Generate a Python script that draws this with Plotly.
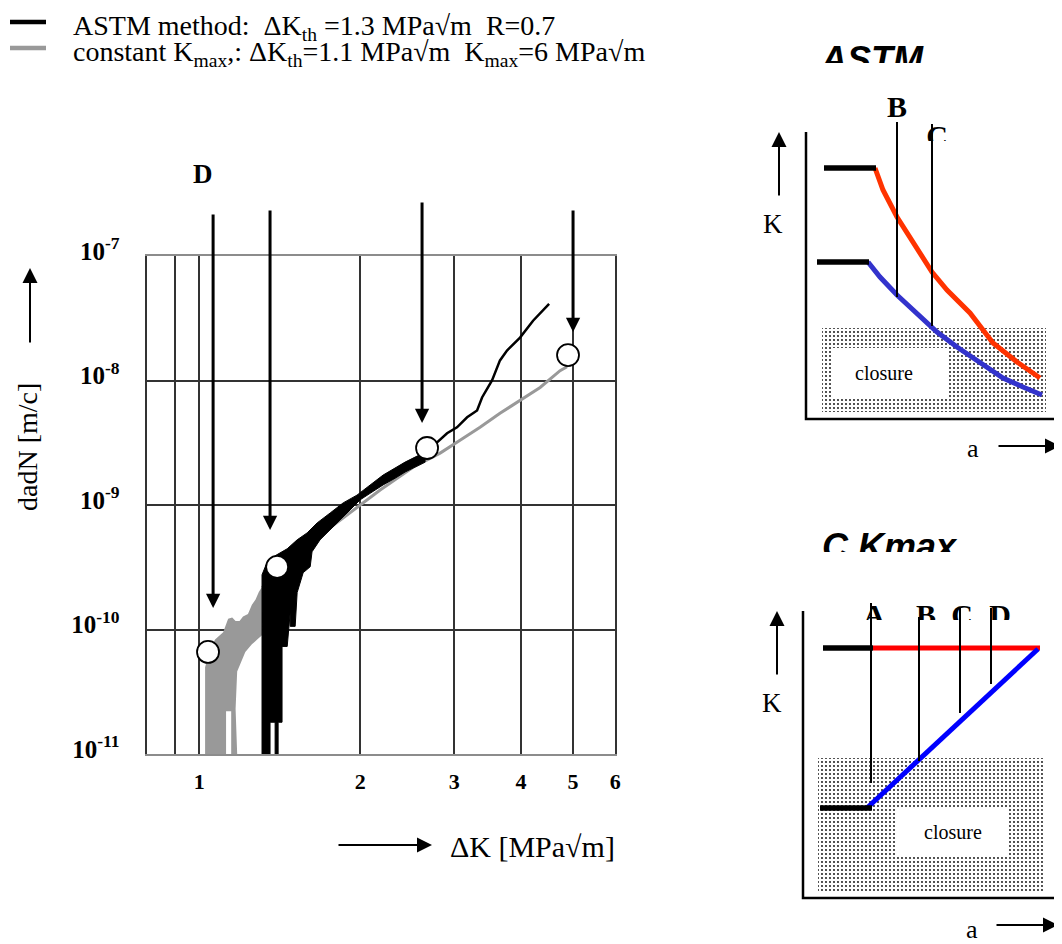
import math
import plotly.graph_objects as go

# The page adds an 8 px body margin, so the figure is drawn 8 px smaller
# and every reference-pixel position is converted with that offset.
OFF = 8
W, H = 1062 - OFF, 944 - OFF

# ---------------- main chart data (ΔK in MPa√m, da/dN in m/cycle) ----------------
gray_band_dk = [1.026, 1.026, 1.048, 1.071, 1.109, 1.133, 1.153, 1.170, 1.190, 1.208, 1.234,
                1.255, 1.275, 1.293, 1.311, 1.311, 1.284, 1.255, 1.220, 1.208, 1.178, 1.170,
                1.178, 1.148, 1.148, 1.123, 1.123, 1.026]
gray_band_rate = [1.0e-11, 4.97e-11, 6.9e-11, 8.3e-11, 9.5e-11, 1.22e-10, 1.25e-10, 1.17e-10,
                  1.17e-10, 1.27e-10, 1.33e-10, 1.58e-10, 1.74e-10, 2.0e-10, 2.2e-10, 9.0e-11,
                  8.3e-11, 7.6e-11, 6.6e-11, 6.0e-11, 4.6e-11, 2.3e-11, 1.0e-11, 1.0e-11,
                  2.2e-11, 2.2e-11, 1.0e-11, 1.0e-11]

black_band_dk = [1.311, 1.311, 1.334, 1.387, 1.461, 1.525, 1.592, 1.662, 1.758, 1.859, 1.973,
                 2.087, 2.208, 2.324, 2.427, 2.556, 2.645, 2.645, 2.556, 2.427, 2.324, 2.208,
                 2.105, 2.000, 1.915, 1.835, 1.758, 1.683, 1.626, 1.613, 1.565, 1.525, 1.512,
                 1.480, 1.480, 1.461, 1.429, 1.429, 1.405, 1.405, 1.387, 1.387, 1.357, 1.357,
                 1.311]
black_band_rate = [1.0e-11, 2.75e-10, 3.31e-10, 3.91e-10, 4.45e-10, 5.25e-10, 5.97e-10,
                   7.18e-10, 8.63e-10, 1.04e-9, 1.20e-9, 1.45e-9, 1.74e-9, 1.98e-9, 2.21e-9,
                   2.47e-9, 2.65e-9, 2.21e-9, 2.05e-9, 1.84e-9, 1.64e-9, 1.45e-9, 1.27e-9,
                   1.10e-9, 9.12e-10, 7.59e-10, 6.31e-10, 5.25e-10, 4.21e-10, 3.19e-10,
                   2.86e-10, 1.98e-10, 1.06e-10, 1.06e-10, 1.37e-10, 7.31e-11, 7.31e-11,
                   1.80e-11, 1.80e-11, 1.0e-11, 1.0e-11, 1.80e-11, 1.80e-11, 1.0e-11, 1.0e-11]

black_line_dk = [2.645, 2.786, 2.908, 3.035, 3.170, 3.309, 3.381, 3.529, 3.652, 3.764, 3.981,
                 4.211, 4.512]
black_line_rate = [2.45e-9, 3.19e-9, 3.77e-9, 4.21e-9, 5.06e-9, 5.75e-9, 7.31e-9, 1.0e-8,
                   1.45e-8, 1.74e-8, 2.21e-8, 3.02e-8, 4.13e-8]

gray_line_dk = [1.311, 1.480, 1.683, 1.915, 2.180, 2.512, 2.822, 3.075, 3.352, 3.652, 3.981,
                4.341, 4.730, 4.875]
gray_line_rate = [2.17e-10, 3.5e-10, 5.7e-10, 8.6e-10, 1.32e-9, 2.01e-9, 2.61e-9, 3.31e-9,
                  4.21e-9, 5.45e-9, 6.92e-9, 8.79e-9, 1.20e-8, 1.29e-8]

marker_dk = [1.039, 1.399, 2.668, 4.895]
marker_rate = [6.6e-11, 3.18e-10, 2.87e-9, 1.60e-8]

arrow_dk = [1.062, 1.357, 2.611, 5.002]
arrow_tip_rate = [1.49e-10, 6.3e-10, 4.56e-9, 2.45e-8]
arrow_top_rate = [2.21e-7, 2.39e-7, 2.77e-7, 2.39e-7]

x_tickvals = [0.9, 1, 2, 3, 4, 5, 6]
x_ticktext = ["", "1", "2", "3", "4", "5", "6"]
y_tickvals = [1e-11, 1e-10, 1e-9, 1e-8, 1e-7]
y_ticktext = ["10<sup>-11</sup>", "10<sup>-10</sup>", "10<sup>-9</sup>",
              "10<sup>-8</sup>", "10<sup>-7</sup>"]

legend_labels = ["ASTM method:\u00a0 ΔK<sub>th</sub> =1.3 MPa√m\u00a0 R=0.7",
                 "constant K<sub>max</sub>,: ΔK<sub>th</sub>=1.1 MPa√m\u00a0 K<sub>max</sub>=6 MPa√m"]
legend_colors = ["black", "#999999"]

# ---------------- schematic panel 1 (ASTM), arbitrary units a, K ----------------
p1_axis_a, p1_axis_K = [0, 0, 256], [287, 0, 0]
p1_high_a, p1_high_K = [18, 70], [251, 251]
p1_low_a, p1_low_K = [11, 63], [157, 157]
p1_red_a = [69, 77, 91, 107, 126, 141, 164, 187, 211, 234]
p1_red_K = [251, 229, 202, 176, 147, 129, 106, 76, 57, 41]
p1_blue_a = [62, 74, 91, 111, 131, 151, 174, 197, 217, 236]
p1_blue_K = [157, 142, 124, 106, 87, 72, 56, 41, 32, 24]
p1_closure_a, p1_closure_K = [16, 240, 240, 16, 16], [7, 7, 91, 91, 7]
p1_inner_a, p1_inner_K = [27, 141, 141, 27, 27], [22, 22, 71, 71, 22]
p1_cut_a = [91, 126]
p1_cut_top = [297, 295]
p1_cut_bottom = [122, 93]

# ---------------- schematic panel 2 (constant Kmax) ----------------
p2_axis_a, p2_axis_K = [0, 0, 259], [287, 0, 0]
p2_high_a, p2_high_K = [20, 70], [250, 250]
p2_red_a, p2_red_K = [70, 237], [250, 250]
p2_low_a, p2_low_K = [17, 69], [90, 90]
p2_blue_a, p2_blue_K = [64, 235], [90, 249]
p2_closure_a, p2_closure_K = [15, 241, 241, 15, 15], [5, 5, 140, 140, 5]
p2_inner_a, p2_inner_K = [94, 205, 205, 94, 94], [43, 43, 90, 90, 43]
p2_cut_a = [68, 116, 157, 188]
p2_cut_top = [295, 281, 290, 290]
p2_cut_bottom = [115, 137, 185, 214]
p2_letters = ["A", "B", "C", "D"]
p2_letter_a = [71, 123, 159, 197]

SERIF = "Liberation Serif"
SANS = "Liberation Sans"


def px_x(px):
    return (px - OFF) / W


def px_y(py):
    return 1 - (py - OFF) / H


fig = go.Figure()

# ---- main chart traces ----
fig.add_trace(go.Scatter(x=gray_band_dk, y=gray_band_rate, mode="lines", fill="toself",
                         fillcolor="#999999", line=dict(width=0, color="#999999"),
                         showlegend=False, hoverinfo="skip"))
fig.add_trace(go.Scatter(x=gray_line_dk, y=gray_line_rate, mode="lines",
                         line=dict(width=3, color="#999999"), showlegend=False))
fig.add_trace(go.Scatter(x=black_band_dk, y=black_band_rate, mode="lines", fill="toself",
                         fillcolor="black", line=dict(width=1, color="black"),
                         showlegend=False, hoverinfo="skip"))
fig.add_trace(go.Scatter(x=black_line_dk, y=black_line_rate, mode="lines",
                         line=dict(width=2.5, color="black"), showlegend=False))
fig.add_trace(go.Scatter(x=marker_dk, y=marker_rate, mode="markers",
                         marker=dict(size=22, color="white", line=dict(width=1.8, color="black")),
                         showlegend=False))


def line_trace(a, k, color, width, xa, ya, fill=None, fillcolor=None, pattern=None):
    kw = dict(x=a, y=k, mode="lines", line=dict(color=color, width=width),
              xaxis=xa, yaxis=ya, showlegend=False, hoverinfo="skip")
    if fill:
        kw["fill"] = fill
        kw["fillcolor"] = fillcolor
    if pattern:
        kw["fillpattern"] = pattern
    fig.add_trace(go.Scatter(**kw))


dots = dict(shape=".", fgcolor="black", bgcolor="white", size=4, solidity=0.16)

# ---- panel 1 ----
line_trace(p1_closure_a, p1_closure_K, "rgba(0,0,0,0)", 0, "x2", "y2", "toself", "white", dots)
line_trace(p1_inner_a, p1_inner_K, "white", 0, "x2", "y2", "toself", "white")
line_trace(p1_red_a, p1_red_K, "#ff3300", 5, "x2", "y2")
line_trace(p1_blue_a, p1_blue_K, "#3333cc", 5, "x2", "y2")
line_trace(p1_high_a, p1_high_K, "black", 5.5, "x2", "y2")
line_trace(p1_low_a, p1_low_K, "black", 5.5, "x2", "y2")
for a, t, b in zip(p1_cut_a, p1_cut_top, p1_cut_bottom):
    line_trace([a, a], [t, b], "black", 2, "x2", "y2")
line_trace(p1_axis_a, p1_axis_K, "black", 2.5, "x2", "y2")

# ---- panel 2 ----
line_trace(p2_closure_a, p2_closure_K, "rgba(0,0,0,0)", 0, "x3", "y3", "toself", "white", dots)
line_trace(p2_inner_a, p2_inner_K, "white", 0, "x3", "y3", "toself", "white")
line_trace(p2_red_a, p2_red_K, "#ff0000", 5, "x3", "y3")
line_trace(p2_blue_a, p2_blue_K, "#0000ff", 5, "x3", "y3")
line_trace(p2_high_a, p2_high_K, "black", 5.5, "x3", "y3")
line_trace(p2_low_a, p2_low_K, "black", 5.5, "x3", "y3")
for a, t, b in zip(p2_cut_a, p2_cut_top, p2_cut_bottom):
    line_trace([a, a], [t, b], "black", 2, "x3", "y3")
line_trace(p2_axis_a, p2_axis_K, "black", 2.5, "x3", "y3")

# ---- clipped lettering (cut off at the bottom as in the source picture) ----
fig.add_trace(go.Scatter(x=[66], y=[0], mode="text", text=["ASTM"], cliponaxis=True,
                         textposition="middle center", xaxis="x4", yaxis="y4",
                         textfont=dict(family=SANS, size=36, weight="bold", style="italic",
                                       color="black"), showlegend=False, hoverinfo="skip"))
fig.add_trace(go.Scatter(x=[131], y=[3], mode="text", text=["C"], cliponaxis=True,
                         textposition="middle center", xaxis="x5", yaxis="y5",
                         textfont=dict(family=SERIF, size=30, weight="bold", color="black"),
                         showlegend=False, hoverinfo="skip"))
fig.add_trace(go.Scatter(x=[86], y=[2], mode="text", text=["C Kmax"], cliponaxis=True,
                         textposition="middle center", xaxis="x6", yaxis="y6",
                         textfont=dict(family=SANS, size=36, weight="bold", style="italic",
                                       color="black"), showlegend=False, hoverinfo="skip"))
fig.add_trace(go.Scatter(x=p2_letter_a, y=[3] * len(p2_letter_a), mode="text", text=p2_letters,
                         cliponaxis=True, textposition="middle center", xaxis="x7", yaxis="y7",
                         textfont=dict(family=SERIF, size=30, weight="bold", color="black"),
                         showlegend=False, hoverinfo="skip"))

annotations = []

# main chart arrows (pointing down at the marked points)
for xd, tip, top in zip(arrow_dk, arrow_tip_rate, arrow_top_rate):
    annotations.append(dict(x=math.log10(xd), y=math.log10(tip), xref="x", yref="y",
                            ax=math.log10(xd), ay=math.log10(top), axref="x", ayref="y",
                            text="", showarrow=True, arrowhead=2, arrowsize=0.95,
                            arrowwidth=3, arrowcolor="black", standoff=0))

annotations.append(dict(x=px_x(203), y=px_y(174), xref="paper", yref="paper", text="D",
                        xanchor="center", yanchor="middle", showarrow=False,
                        font=dict(family=SERIF, size=27, weight="bold", color="black")))

# axis titles with arrows
annotations.append(dict(x=px_x(27), y=px_y(447), xref="paper", yref="paper",
                        text="dadN [m/c]", textangle=-90, showarrow=False,
                        xanchor="center", yanchor="middle",
                        font=dict(family=SERIF, size=28, color="black")))
annotations.append(dict(x=px_x(30), y=px_y(268), xref="paper", yref="paper", text="",
                        showarrow=True, ax=0, ay=76, arrowhead=2, arrowsize=1.5,
                        arrowwidth=2, arrowcolor="black", standoff=0))
annotations.append(dict(x=px_x(448), y=px_y(846), xref="paper", yref="paper",
                        text="ΔK [MPa√m]", xanchor="left", yanchor="middle", showarrow=False,
                        font=dict(family=SERIF, size=30, color="black")))
annotations.append(dict(x=px_x(432), y=px_y(845), xref="paper", yref="paper", text="",
                        showarrow=True, ax=-95, ay=0, arrowhead=2, arrowsize=1.5,
                        arrowwidth=2, arrowcolor="black", standoff=0))

# legend text (box tops kept inside the page)
for i, (lab, col) in enumerate(zip(legend_labels, legend_colors)):
    ytop = 8.5 + 26 * i
    annotations.append(dict(x=px_x(72), y=px_y(ytop), xref="paper", yref="paper", text=lab,
                            xanchor="left", yanchor="top", showarrow=False, borderpad=0,
                            font=dict(family=SERIF, size=28, color="black")))

# panel labels
for xa, ya, kx, ky, ax_, ay_, cx, cy in [("x2", "y2", -33, 195, 167, -30, 78, 46),
                                          ("x3", "y3", -31, 195, 169, -31, 150, 66)]:
    annotations.append(dict(x=kx, y=ky, xref=xa, yref=ya, text="K", showarrow=False,
                            font=dict(family=SERIF, size=27, color="black")))
    annotations.append(dict(x=ax_, y=ay_, xref=xa, yref=ya, text="a", showarrow=False,
                            font=dict(family=SERIF, size=26, color="black")))
    annotations.append(dict(x=cx, y=cy, xref=xa, yref=ya, text="closure", showarrow=False,
                            font=dict(family=SERIF, size=20, color="black")))
annotations.append(dict(x=91, y=312, xref="x2", yref="y2", text="B", showarrow=False,
                        font=dict(family=SERIF, size=30, weight="bold", color="black")))

# panel arrows
for xa, ya, karrow_a, aarrow_tail, aarrow_tip in [("x2", "y2", -27, 191, 254),
                                                  ("x3", "y3", -26, 192, 255)]:
    annotations.append(dict(x=karrow_a, y=287, ax=karrow_a, ay=222, xref=xa, yref=ya,
                            axref=xa, ayref=ya, text="", showarrow=True, arrowhead=2,
                            arrowsize=1.5, arrowwidth=2, arrowcolor="black", standoff=0))
    annotations.append(dict(x=aarrow_tip, y=-27, ax=aarrow_tail, ay=-27, xref=xa, yref=ya,
                            axref=xa, ayref=ya, text="", showarrow=True, arrowhead=2,
                            arrowsize=1.5, arrowwidth=2, arrowcolor="black", standoff=0))

shapes = []
for i, col in enumerate(legend_colors):
    ypx = 22 + 26 * i
    shapes.append(dict(type="line", xref="paper", yref="paper", x0=px_x(10), x1=px_x(46),
                       y0=px_y(ypx), y1=px_y(ypx), line=dict(color=col, width=4.5)))

hidden = dict(visible=False, fixedrange=True, automargin=False)
p1_xdom = [px_x(740), 1.0]
p2_xdom = [px_x(740), 1.0]

fig.update_layout(
    template="none",
    width=W, height=H, autosize=False,
    margin=dict(l=0, r=0, t=0, b=0, pad=0, autoexpand=False),
    paper_bgcolor="white", plot_bgcolor="rgba(0,0,0,0)",
    showlegend=False,
    xaxis=dict(type="log", range=[math.log10(0.8), math.log10(6)], automargin=False,
               domain=[px_x(147.3), px_x(615.3)], tickvals=x_tickvals, ticktext=x_ticktext,
               ticks="", showgrid=True, gridcolor="#333333", gridwidth=1.5,
               showline=True, linecolor="#8c8c8c", linewidth=2, mirror=True,
               zeroline=False, ticklabelstandoff=7,
               tickfont=dict(family=SERIF, size=22, weight="bold", color="black")),
    yaxis=dict(type="log", range=[-11, -7], domain=[px_y(754), px_y(256)], automargin=False,
               tickvals=y_tickvals, ticktext=y_ticktext, ticks="", showgrid=True,
               gridcolor="#333333", gridwidth=1.5, showline=True, linecolor="#333333",
               linewidth=1.5, mirror=True, zeroline=False, ticklabelstandoff=21,
               ticklabelshift=-5,
               tickfont=dict(family=SERIF, size=25, weight="bold", color="black")),
    xaxis2=dict(domain=p1_xdom, range=[-66, 256], anchor="y2", **hidden),
    yaxis2=dict(domain=[px_y(470), px_y(50)], range=[-51, 369], anchor="x2", **hidden),
    xaxis3=dict(domain=p2_xdom, range=[-63, 259], anchor="y3", **hidden),
    yaxis3=dict(domain=[px_y(944), px_y(520)], range=[-46, 378], anchor="x3", **hidden),
    xaxis4=dict(domain=p1_xdom, range=[-66, 256], anchor="y4", **hidden),
    yaxis4=dict(domain=[px_y(63), px_y(33)], range=[0, 30], anchor="x4", **hidden),
    xaxis5=dict(domain=p1_xdom, range=[-66, 256], anchor="y5", **hidden),
    yaxis5=dict(domain=[px_y(141), px_y(111)], range=[0, 30], anchor="x5", **hidden),
    xaxis6=dict(domain=p2_xdom, range=[-63, 259], anchor="y6", **hidden),
    yaxis6=dict(domain=[px_y(552), px_y(522)], range=[0, 30], anchor="x6", **hidden),
    xaxis7=dict(domain=p2_xdom, range=[-63, 259], anchor="y7", **hidden),
    yaxis7=dict(domain=[px_y(620), px_y(590)], range=[0, 30], anchor="x7", **hidden),
    annotations=annotations,
    shapes=shapes,
)

fig.write_html("out.html")
